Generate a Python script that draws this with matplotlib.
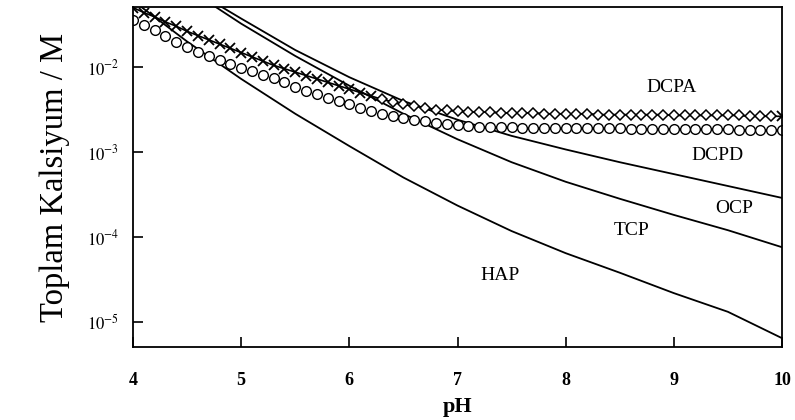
import matplotlib
matplotlib.use("Agg")
import matplotlib.pyplot as plt
import numpy as np

# ---------------- data ----------------
marker_ph = [4.0, 4.1, 4.2, 4.3, 4.4, 4.5, 4.6, 4.7, 4.8, 4.9,
             5.0, 5.1, 5.2, 5.3, 5.4, 5.5, 5.6, 5.7, 5.8, 5.9,
             6.0, 6.1, 6.2, 6.3, 6.4, 6.5, 6.6, 6.7, 6.8, 6.9,
             7.0, 7.1, 7.2, 7.3, 7.4, 7.5, 7.6, 7.7, 7.8, 7.9,
             8.0, 8.1, 8.2, 8.3, 8.4, 8.5, 8.6, 8.7, 8.8, 8.9,
             9.0, 9.1, 9.2, 9.3, 9.4, 9.5, 9.6, 9.7, 9.8, 9.9, 10.0]

# log10 of total calcium (M)
dcpa_log = [-1.30, -1.36, -1.41, -1.47, -1.52, -1.58, -1.63, -1.68, -1.73, -1.78,
            -1.83, -1.88, -1.93, -1.98, -2.02, -2.06, -2.10, -2.14, -2.18, -2.22,
            -2.26, -2.30, -2.34, -2.38, -2.41, -2.44, -2.46, -2.48, -2.50, -2.51,
            -2.52, -2.53, -2.53, -2.53, -2.54, -2.54, -2.54, -2.54, -2.55, -2.55,
            -2.55, -2.55, -2.55, -2.56, -2.56, -2.56, -2.56, -2.56, -2.56, -2.56,
            -2.57, -2.57, -2.57, -2.57, -2.57, -2.57, -2.57, -2.58, -2.58, -2.58, -2.58]

dcpd_log = [-1.45, -1.51, -1.57, -1.63, -1.70, -1.76, -1.82, -1.87, -1.92, -1.97,
            -2.01, -2.05, -2.09, -2.13, -2.18, -2.23, -2.28, -2.32, -2.36, -2.40,
            -2.44, -2.48, -2.52, -2.55, -2.58, -2.60, -2.62, -2.64, -2.66, -2.67,
            -2.68, -2.69, -2.70, -2.70, -2.71, -2.71, -2.72, -2.72, -2.72, -2.72,
            -2.72, -2.72, -2.72, -2.72, -2.72, -2.72, -2.73, -2.73, -2.73, -2.73,
            -2.73, -2.73, -2.73, -2.73, -2.73, -2.73, -2.74, -2.74, -2.74, -2.74, -2.74]

ocp_ph = [4.75, 5.0, 5.5, 6.0, 6.5, 7.0, 7.5, 8.0, 8.5, 9.0, 9.5, 10.0]
ocp_log = [-1.24, -1.43, -1.80, -2.12, -2.40, -2.62, -2.81, -2.97, -3.12, -3.26, -3.40, -3.54]

tcp_ph = [4.70, 5.0, 5.5, 6.0, 6.5, 7.0, 7.5, 8.0, 8.5, 9.0, 9.5, 10.0]
tcp_log = [-1.24, -1.49, -1.87, -2.22, -2.55, -2.85, -3.12, -3.35, -3.55, -3.74, -3.92, -4.12]

hap_ph = [4.0, 4.5, 5.0, 5.5, 6.0, 6.5, 7.0, 7.5, 8.0, 8.5, 9.0, 9.5, 10.0]
hap_log = [-1.22, -1.70, -2.14, -2.55, -2.93, -3.30, -3.63, -3.93, -4.19, -4.42, -4.66, -4.88, -5.19]

label_names = ["DCPA", "DCPD", "OCP", "TCP", "HAP"]
label_ph = [8.98, 9.40, 9.56, 8.61, 7.39]
label_log = [-2.24, -3.04, -3.66, -3.92, -4.45]

x_ticks = [4, 5, 6, 7, 8, 9, 10]
y_exponents = [-5, -4, -3, -2]

# ---------------- plot ----------------
plt.rcParams['font.family'] = ['Liberation Serif', 'DejaVu Serif']
plt.rcParams['mathtext.fontset'] = 'stix'

fig = plt.figure(figsize=(7.95, 4.2), dpi=100)
ax = fig.add_axes([133/795, 73/420, (782-133)/795, (347-7)/420])

def conc(logs):
    return [10.0 ** v for v in logs]

lw = 1.3
ax.plot(hap_ph, conc(hap_log), color='black', lw=lw)
ax.plot(tcp_ph, conc(tcp_log), color='black', lw=lw)
ax.plot(ocp_ph, conc(ocp_log), color='black', lw=lw)

# DCPD: open circles
ax.plot(marker_ph, conc(dcpd_log), linestyle='none', marker='o', ms=7,
        mfc='white', mec='black', mew=1.0)

# DCPA: line with crosses (low pH) and diamonds (high pH)
dcpa_c = conc(dcpa_log)
ax.plot(marker_ph, dcpa_c, color='black', lw=1.2)
n_x = 23
ax.plot(marker_ph[:n_x], dcpa_c[:n_x], linestyle='none', marker='x', ms=7,
        mec='black', mew=1.3)
ax.plot(marker_ph[n_x:-1], dcpa_c[n_x:-1], linestyle='none', marker='D', ms=5,
        mfc='white', mec='black', mew=1.1)
ax.plot(marker_ph[-1:], dcpa_c[-1:], linestyle='none', marker='x', ms=7,
        mec='black', mew=1.3)

for name, px, py in zip(label_names, label_ph, label_log):
    ax.text(px, 10.0 ** py, name, fontsize=14, ha='center', va='center')

ax.set_yscale('log')
ax.set_xlim(4, 10)
ax.set_ylim(10 ** -5.294, 10 ** -1.294)
ax.set_xticks(x_ticks)
ax.set_xticklabels([str(t) for t in x_ticks], fontweight='bold', fontsize=13)
ax.set_yticks([10.0 ** e for e in y_exponents])
ax.set_yticklabels([r'$10^{%d}$' % e for e in y_exponents], fontsize=12)
ax.yaxis.set_minor_locator(matplotlib.ticker.NullLocator())
ax.tick_params(axis='both', direction='in', length=7, width=1.2)
ax.tick_params(axis='y', pad=10)
ax.tick_params(axis='x', pad=18)
for s in ax.spines.values():
    s.set_linewidth(1.3)

ax.set_xlabel('pH', fontsize=16, fontweight='bold', labelpad=6)
ax.set_ylabel('Toplam Kalsiyum / M', fontsize=23.5, labelpad=12)

fig.savefig('out.png', dpi=100)
